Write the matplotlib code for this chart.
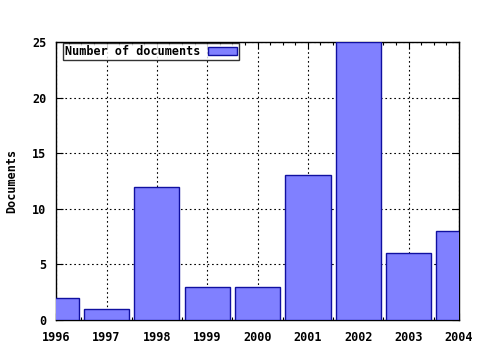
import matplotlib
matplotlib.use("Agg")
import matplotlib.pyplot as plt
from matplotlib.ticker import MultipleLocator

years = [1996, 1997, 1998, 1999, 2000, 2001, 2002, 2003, 2004]
documents = [2, 1, 12, 3, 3, 13, 25, 6, 8]

plt.rcParams['font.family'] = ['DejaVu Sans Mono']
plt.rcParams['font.weight'] = 'bold'

fig = plt.figure(figsize=(4.8, 3.5), dpi=100)
ax = fig.add_axes([0.117, 0.086, 0.839, 0.794])

bars = ax.bar(years, documents, width=0.9, color='#8080ff', edgecolor='#1010a0',
              linewidth=1.0, label='Number of documents', zorder=3)

ax.set_xlim(1996, 2004)
ax.set_ylim(0, 25)
ax.set_xticks(years)
ax.set_xticklabels([str(y) for y in years])
ax.set_yticks([0, 5, 10, 15, 20, 25])
ax.xaxis.set_minor_locator(MultipleLocator(0.25))
ax.tick_params(axis='both', which='both', direction='in', top=True, right=True,
               labelsize=8.5, width=0.8)
ax.tick_params(axis='both', which='major', length=5)
ax.tick_params(axis='x', which='major', pad=8)
ax.tick_params(axis='y', which='major', pad=7)
ax.tick_params(axis='both', which='minor', length=2.5)
ax.grid(True, which='major', color='black', linestyle=(0, (1.5, 2.5)), linewidth=0.8, zorder=1)
for s in ax.spines.values():
    s.set_linewidth(1.0)

ax.set_ylabel('Documents', fontsize=8.5, fontweight='bold', labelpad=10)

leg = ax.legend(loc='upper left', markerfirst=False, fontsize=8.5, frameon=True,
                fancybox=False, borderpad=0.15, handlelength=2.5, handleheight=0.6,
                handletextpad=0.6, borderaxespad=0.1, bbox_to_anchor=(0.015, 1.0))
leg.get_frame().set_edgecolor('black')
leg.get_frame().set_linewidth(1.0)
leg.set_zorder(5)

fig.savefig('out.png', dpi=100)
